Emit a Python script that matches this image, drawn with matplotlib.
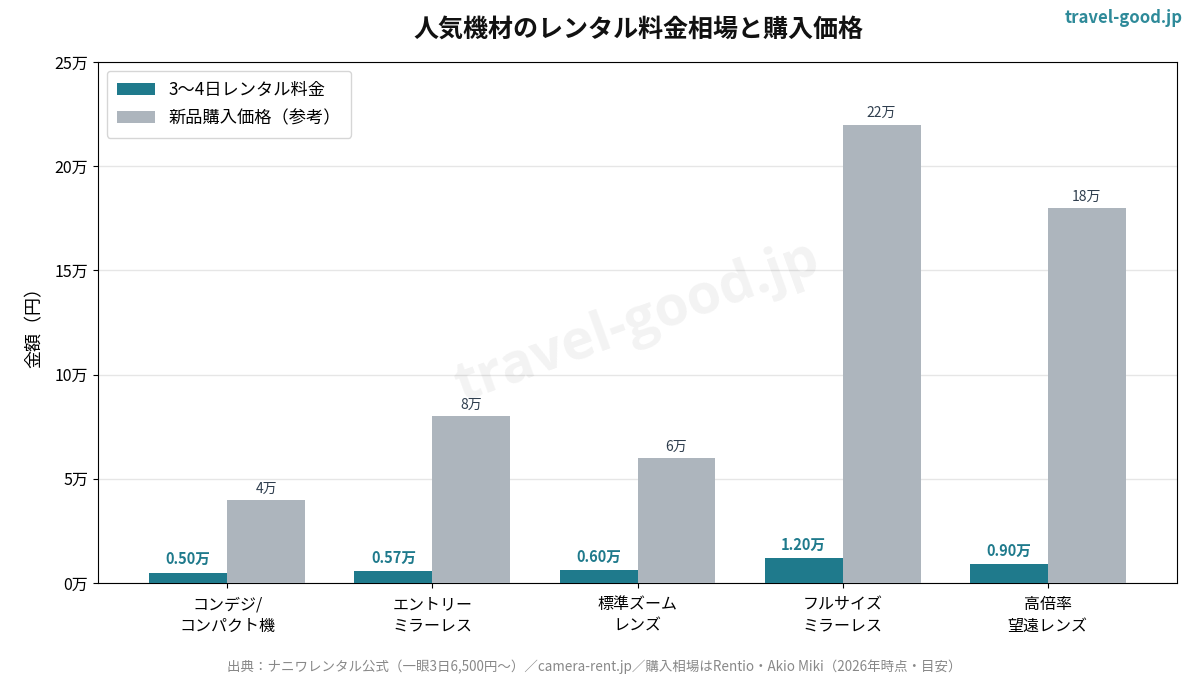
import numpy as np
import matplotlib.pyplot as plt

plt.rcParams['font.family'] = ['Noto Sans CJK JP', 'DejaVu Sans']

# ---- data (万円) ----
categories = ['コンデジ/\nコンパクト機', 'エントリー\nミラーレス', '標準ズーム\nレンズ',
              'フルサイズ\nミラーレス', '高倍率\n望遠レンズ']
rental = [0.50, 0.57, 0.60, 1.20, 0.90]
purchase = [4, 8, 6, 22, 18]
yticks = [0, 5, 10, 15, 20, 25]

teal = '#1f7a8c'
gray = '#adb5bd'

fig = plt.figure(figsize=(11.96, 6.76), dpi=100)
ax = fig.add_axes([98/1196, 1-583/676, (1177-98)/1196, (583-62)/676])

x = np.arange(len(categories))
w = 0.38
b1 = ax.bar(x - w/2, rental, w, color=teal, label='3〜4日レンタル料金', zorder=3)
b2 = ax.bar(x + w/2, purchase, w, color=gray, label='新品購入価格（参考）', zorder=3)

for xi, v in zip(x, rental):
    ax.text(xi - w/2, v + 0.25, f'{v:.2f}万', ha='center', va='bottom',
            fontsize=10.5, fontweight='bold', color=teal, zorder=4)
for xi, v in zip(x, purchase):
    ax.text(xi + w/2, v + 0.2, f'{v}万', ha='center', va='bottom',
            fontsize=10, color='#2f3e4e', zorder=4)

ax.set_xlim(-0.63, 4.63)
ax.set_ylim(0, 25)
ax.set_xticks(x)
ax.set_xticklabels(categories, fontsize=11.5, linespacing=1.35)
ax.tick_params(axis='x', pad=6)
ax.set_yticks(yticks)
ax.set_yticklabels([f'{t}万' for t in yticks], fontsize=11.5)
ax.set_ylabel('金額（円）', fontsize=13, labelpad=8)
ax.yaxis.grid(True, color='#e6e6e6', linewidth=1, zorder=0)
ax.set_axisbelow(True)

ax.legend(loc='upper left', fontsize=12.4, frameon=True, edgecolor='#cccccc',
          handlelength=2.2, borderpad=0.6, labelspacing=0.6)

# watermark
ax.text(0.5, 0.5, 'travel-good.jp', transform=ax.transAxes, fontsize=40,
        fontweight='bold', color='#000000', alpha=0.05, rotation=20,
        ha='center', va='center', family=['Open Sans', 'DejaVu Sans'], zorder=1)

fig.text(638/1196, 1-30/676, '人気機材のレンタル料金相場と購入価格', ha='center', va='center',
         fontsize=18, fontweight='bold', color='#111111')
fig.text(1183/1196, 1-18/676, 'travel-good.jp', ha='right', va='center',
         fontsize=12, fontweight='bold', color='#2e8a99')
fig.text(594/1196, 1-667/676,
         '出典：ナニワレンタル公式（一眼3日6,500円〜）／camera-rent.jp／購入相場はRentio・Akio Miki（2026年時点・目安）',
         ha='center', va='center', fontsize=9.7, color='#888888')

fig.savefig('out.png', dpi=100)
